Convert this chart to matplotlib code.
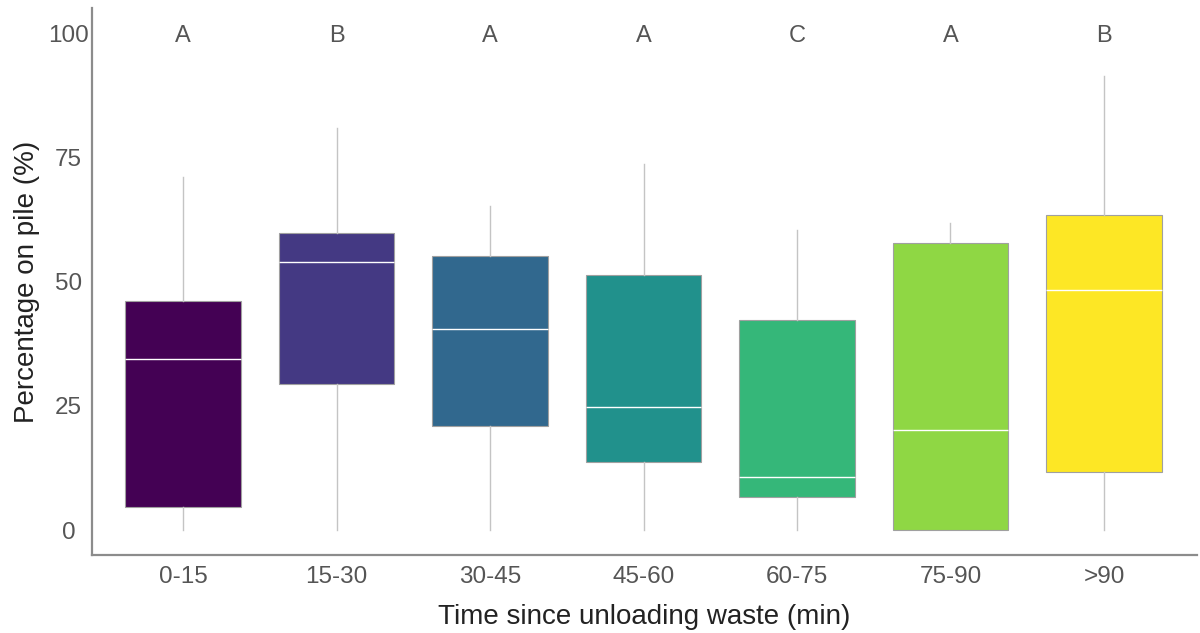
import matplotlib.pyplot as plt

plt.rcParams['font.family'] = ['Liberation Sans', 'DejaVu Sans']

categories = ['0-15', '15-30', '30-45', '45-60', '60-75', '75-90', '>90']
whislo = [0, 0, 0, 0, 0, 0, 0]
q1 = [4.6, 29.4, 20.9, 13.7, 6.6, 0, 11.7]
med = [34.4, 53.9, 40.4, 24.7, 10.7, 20.1, 48.3]
q3 = [46.1, 59.8, 55.1, 51.3, 42.3, 57.7, 63.4]
whishi = [71, 81, 65.2, 73.6, 60.4, 61.8, 91.3]
letters = ['A', 'B', 'A', 'A', 'C', 'A', 'B']

colors = ['#440154', '#443983', '#31688e', '#21918c', '#35b779', '#8fd744', '#fde725']

stats = []
for i in range(len(categories)):
    stats.append(dict(label=categories[i], whislo=whislo[i], q1=q1[i], med=med[i],
                      q3=q3[i], whishi=whishi[i], fliers=[]))

fig = plt.figure(figsize=(12, 6.33), dpi=100)
ax = fig.add_axes([0.0767, 0.1232, 0.9208, 0.8638])

bp = ax.bxp(stats, positions=range(len(categories)), widths=0.755, patch_artist=True,
            showcaps=False,
            boxprops=dict(edgecolor='#a0a0a0', linewidth=0.8),
            whiskerprops=dict(color='#c4c4c4', linewidth=1),
            medianprops=dict(color='white', linewidth=1))
for patch, c in zip(bp['boxes'], colors):
    patch.set_facecolor(c)

for i, t in enumerate(letters):
    ax.text(i, 99.4, t, ha='center', va='center', fontsize=17, color='#555555')

ax.set_xlim(-0.593, 6.606)
ax.set_ylim(-5, 105)
ax.set_yticks([0, 25, 50, 75, 100])
ax.set_xticks(range(len(categories)))
ax.set_xticklabels(categories)
ax.tick_params(length=0, labelsize=17.5, labelcolor='#555555')
ax.tick_params(axis='x', pad=8)
ax.tick_params(axis='y', pad=17)
for lab in ax.get_yticklabels():
    lab.set_horizontalalignment('center')
for s in ['top', 'right']:
    ax.spines[s].set_visible(False)
for s in ['left', 'bottom']:
    ax.spines[s].set_color('#8c8c8c')
    ax.spines[s].set_linewidth(1.6)

ax.set_xlabel('Time since unloading waste (min)', fontsize=20, color='#222222', va='center')
ax.set_ylabel('Percentage on pile (%)', fontsize=20, color='#222222', va='center')
ax.xaxis.set_label_coords(0.5, -0.113)
ax.yaxis.set_label_coords(-0.059, 0.5)

fig.savefig('out.png', dpi=100)
